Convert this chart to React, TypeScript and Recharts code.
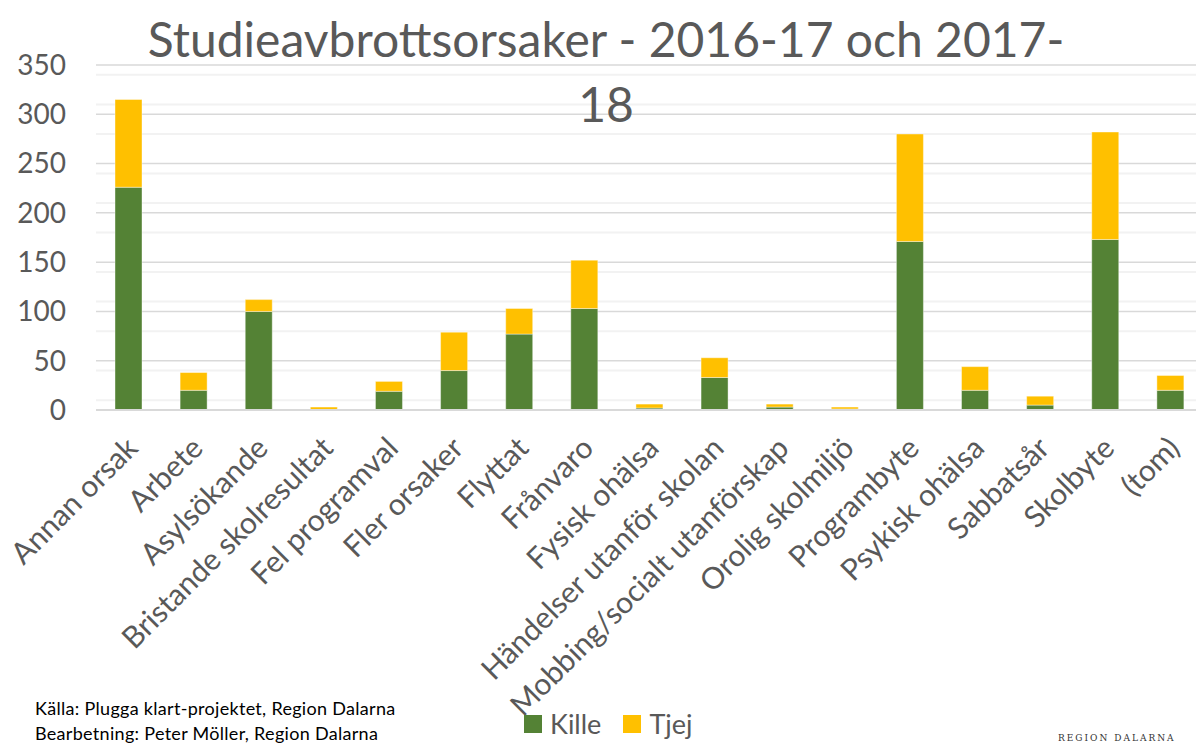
import { BarChart, Bar, XAxis, YAxis, CartesianGrid } from "recharts";

const categories = [
  "Annan orsak",
  "Arbete",
  "Asylsökande",
  "Bristande skolresultat",
  "Fel programval",
  "Fler orsaker",
  "Flyttat",
  "Frånvaro",
  "Fysisk ohälsa",
  "Händelser utanför skolan",
  "Mobbing/socialt utanförskap",
  "Orolig skolmiljö",
  "Programbyte",
  "Psykisk ohälsa",
  "Sabbatsår",
  "Skolbyte",
  "(tom)",
];
const kille = [226, 20, 100, 0, 19, 40, 77, 103, 2, 33, 3, 1, 171, 20, 5, 173, 20];
const tjej = [89, 18, 12, 3, 10, 39, 26, 49, 4, 20, 3, 2, 109, 24, 9, 109, 15];
const majorTicks = [0, 50, 100, 150, 200, 250, 300, 350];
const minorTicks = [10, 20, 30, 40, 60, 70, 80, 90, 110, 120, 130, 140, 160, 170, 180, 190, 210, 220, 230, 240, 260, 270, 280, 290, 310, 320, 330, 340];

const GREEN = "#548235";
const YELLOW = "#FFC000";
const TEXT = "#595959";
const FONT = "Lato, 'Open Sans', sans-serif";

const data = categories.map((name, i) => ({ name, Kille: kille[i], Tjej: tjej[i] }));

function XTick({ x, y, payload }: any) {
  return (
    <g transform={`translate(${x},${y})`}>
      <text
        x={11}
        y={32}
        textAnchor="end"
        transform="rotate(-45 11 32)"
        fill={TEXT}
        fontSize={30}
        fontFamily={FONT}
      >
        {payload.value}
      </text>
    </g>
  );
}

function YTick({ y, payload }: any) {
  return (
    <text x={66} y={y} dy="0.35em" textAnchor="end" fill={TEXT} fontSize={28} fontFamily={FONT}>
      {payload.value}
    </text>
  );
}

export default function App() {
  return (
    <div
      style={{
        position: "fixed",
        left: 0,
        top: 0,
        width: 1196,
        height: 745,
        overflow: "hidden",
        background: "#fff",
        fontFamily: FONT,
      }}
    >
      <BarChart
        width={1203}
        height={745}
        data={data}
        margin={{ top: 65, right: 0, bottom: 0, left: 0 }}
        barSize={27}
      >
        <CartesianGrid vertical={false} horizontalValues={minorTicks} stroke="#f2f2f2" strokeWidth={2} />
        <CartesianGrid vertical={false} horizontalValues={majorTicks} stroke="#d9d9d9" strokeWidth={1.5} />
        <XAxis
          dataKey="name"
          interval={0}
          height={335}
          tickLine={false}
          axisLine={{ stroke: "#d9d9d9", strokeWidth: 2 }}
          tick={<XTick />}
        />
        <YAxis
          width={96}
          domain={[0, 350]}
          ticks={majorTicks}
          axisLine={false}
          tickLine={false}
          tick={<YTick />}
        />
        <Bar dataKey="Kille" stackId="a" fill={GREEN} stroke="#ffffff" strokeOpacity={0.4} strokeWidth={1} isAnimationActive={false} />
        <Bar dataKey="Tjej" stackId="a" fill={YELLOW} stroke="#ffffff" strokeOpacity={0.4} strokeWidth={1} isAnimationActive={false} />
      </BarChart>

      <div
        style={{
          position: "absolute",
          left: 0,
          width: 1212,
          top: 6,
          textAlign: "center",
          color: TEXT,
          fontSize: 48,
          lineHeight: "65px",
          whiteSpace: "pre",
        }}
      >
        {"Studieavbrottsorsaker - 2016-17 och 2017-\n18"}
      </div>

      <div style={{ position: "absolute", left: 524, top: 707, display: "flex", alignItems: "center", color: TEXT, fontSize: 27 }}>
        <span style={{ width: 18, height: 18, background: GREEN, marginRight: 8 }} />
        <span style={{ marginRight: 22 }}>Kille</span>
        <span style={{ width: 18, height: 18, background: YELLOW, marginRight: 8 }} />
        <span>Tjej</span>
      </div>

      <div
        style={{
          position: "absolute",
          left: 35,
          top: 696,
          color: "#000",
          fontSize: 18,
          letterSpacing: 0.3,
          lineHeight: "25px",
        }}
      >
        <div>Källa: Plugga klart-projektet, Region Dalarna</div>
        <div>Bearbetning: Peter Möller, Region Dalarna</div>
      </div>

      <div
        style={{
          position: "absolute",
          left: 1058,
          top: 733,
          fontFamily: "'DejaVu Serif', serif",
          fontSize: 9,
          lineHeight: "10px",
          letterSpacing: 2,
          color: "#333",
        }}
      >
        REGION DALARNA
      </div>
    </div>
  );
}
